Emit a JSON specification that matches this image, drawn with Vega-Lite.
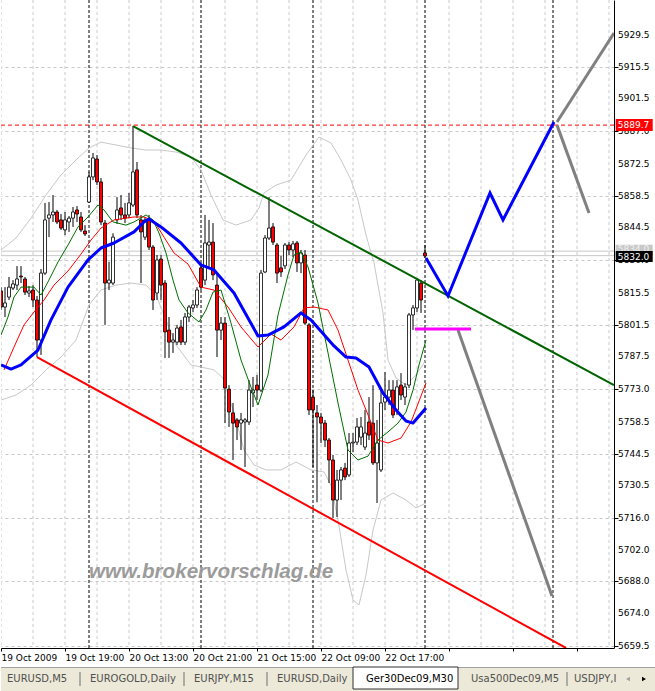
{
  "$schema": "https://vega.github.io/schema/vega-lite/v6.json",
  "padding": 0,
  "background": "#FFFFFF",
  "spacing": 4,
  "config": {
    "view": {"stroke": null},
    "font": "DejaVu Sans",
    "axis": {"labelFont": "DejaVu Sans", "labelFontSize": 9, "labelColor": "#000000", "tickColor": "#000000", "domainColor": "#000000"}
  },
  "datasets": {
    "candles": [
      {"t":0,"o":5816.4,"h":5818.1,"l":5808.0,"c":5809.3},
      {"t":1,"o":5809.3,"h":5818.1,"l":5804.9,"c":5811.1},
      {"t":2,"o":5813.7,"h":5822.6,"l":5812.4,"c":5818.1},
      {"t":3,"o":5817.7,"h":5821.2,"l":5816.8,"c":5819.5},
      {"t":4,"o":5819.0,"h":5827.4,"l":5816.8,"c":5821.7},
      {"t":5,"o":5823.0,"h":5827.4,"l":5819.9,"c":5822.6},
      {"t":6,"o":5821.7,"h":5822.6,"l":5814.6,"c":5815.9},
      {"t":7,"o":5815.5,"h":5818.6,"l":5813.7,"c":5816.4},
      {"t":8,"o":5816.8,"h":5819.0,"l":5809.3,"c":5812.4},
      {"t":9,"o":5812.4,"h":5814.2,"l":5787.2,"c":5794.7},
      {"t":10,"o":5794.7,"h":5826.1,"l":5788.1,"c":5824.3},
      {"t":11,"o":5824.3,"h":5855.3,"l":5823.5,"c":5847.8},
      {"t":12,"o":5848.6,"h":5855.7,"l":5840.2,"c":5850.0},
      {"t":13,"o":5850.0,"h":5858.8,"l":5846.9,"c":5851.3},
      {"t":14,"o":5851.3,"h":5852.2,"l":5846.0,"c":5846.9},
      {"t":15,"o":5847.8,"h":5850.4,"l":5843.4,"c":5844.2},
      {"t":16,"o":5843.4,"h":5851.3,"l":5841.1,"c":5847.8},
      {"t":17,"o":5846.9,"h":5849.5,"l":5842.5,"c":5848.6},
      {"t":18,"o":5848.6,"h":5853.5,"l":5844.7,"c":5851.3},
      {"t":19,"o":5852.2,"h":5853.9,"l":5846.9,"c":5850.4},
      {"t":20,"o":5849.1,"h":5851.3,"l":5842.5,"c":5843.4},
      {"t":21,"o":5842.9,"h":5845.5,"l":5840.7,"c":5841.6},
      {"t":22,"o":5855.7,"h":5869.0,"l":5855.3,"c":5866.8},
      {"t":23,"o":5866.8,"h":5877.4,"l":5865.4,"c":5875.2},
      {"t":24,"o":5874.7,"h":5876.5,"l":5863.2,"c":5864.6},
      {"t":25,"o":5864.6,"h":5866.3,"l":5845.5,"c":5846.9},
      {"t":26,"o":5846.4,"h":5847.8,"l":5801.4,"c":5819.9},
      {"t":27,"o":5819.9,"h":5829.3,"l":5816.8,"c":5821.2},
      {"t":28,"o":5819.9,"h":5841.9,"l":5819.0,"c":5840.2},
      {"t":29,"o":5847.8,"h":5857.9,"l":5846.0,"c":5852.2},
      {"t":30,"o":5853.1,"h":5858.8,"l":5847.8,"c":5850.0},
      {"t":31,"o":5850.0,"h":5855.3,"l":5846.4,"c":5848.6},
      {"t":32,"o":5850.0,"h":5859.7,"l":5848.6,"c":5855.3},
      {"t":33,"o":5854.4,"h":5889.3,"l":5853.5,"c":5869.0},
      {"t":34,"o":5869.9,"h":5873.4,"l":5848.6,"c":5850.0},
      {"t":35,"o":5847.8,"h":5850.0,"l":5819.9,"c":5842.5},
      {"t":36,"o":5840.2,"h":5849.1,"l":5838.9,"c":5847.8},
      {"t":37,"o":5847.8,"h":5850.0,"l":5834.5,"c":5835.8},
      {"t":38,"o":5835.8,"h":5836.7,"l":5808.0,"c":5812.4},
      {"t":39,"o":5815.5,"h":5832.3,"l":5812.4,"c":5830.1},
      {"t":40,"o":5830.5,"h":5832.3,"l":5812.4,"c":5819.0},
      {"t":41,"o":5819.9,"h":5821.2,"l":5786.8,"c":5798.3},
      {"t":42,"o":5799.1,"h":5804.9,"l":5786.8,"c":5793.8},
      {"t":43,"o":5793.8,"h":5797.8,"l":5789.0,"c":5794.7},
      {"t":44,"o":5793.8,"h":5801.4,"l":5792.5,"c":5800.0},
      {"t":45,"o":5800.5,"h":5803.6,"l":5792.5,"c":5793.8},
      {"t":46,"o":5793.8,"h":5806.7,"l":5792.5,"c":5804.9},
      {"t":47,"o":5804.9,"h":5810.2,"l":5802.7,"c":5809.3},
      {"t":48,"o":5808.9,"h":5812.4,"l":5807.1,"c":5810.2},
      {"t":49,"o":5810.2,"h":5818.1,"l":5808.9,"c":5816.8},
      {"t":50,"o":5826.6,"h":5828.8,"l":5816.8,"c":5818.1},
      {"t":51,"o":5821.2,"h":5850.0,"l":5819.0,"c":5837.6},
      {"t":52,"o":5836.7,"h":5847.8,"l":5826.6,"c":5838.0},
      {"t":53,"o":5838.0,"h":5846.4,"l":5821.2,"c":5823.5},
      {"t":54,"o":5819.0,"h":5823.5,"l":5787.2,"c":5799.1},
      {"t":55,"o":5799.1,"h":5804.9,"l":5794.7,"c":5802.2},
      {"t":56,"o":5802.2,"h":5804.9,"l":5758.0,"c":5773.5},
      {"t":57,"o":5773.0,"h":5774.8,"l":5756.3,"c":5762.9},
      {"t":58,"o":5762.5,"h":5766.9,"l":5741.7,"c":5758.0},
      {"t":59,"o":5759.4,"h":5760.2,"l":5750.5,"c":5756.3},
      {"t":60,"o":5758.0,"h":5762.5,"l":5746.1,"c":5759.4},
      {"t":61,"o":5758.5,"h":5760.2,"l":5738.6,"c":5759.4},
      {"t":62,"o":5758.5,"h":5777.0,"l":5757.2,"c":5772.6},
      {"t":63,"o":5771.3,"h":5778.4,"l":5765.1,"c":5772.6},
      {"t":64,"o":5774.8,"h":5779.3,"l":5768.2,"c":5772.6},
      {"t":65,"o":5772.6,"h":5825.7,"l":5771.7,"c":5824.3},
      {"t":66,"o":5824.8,"h":5841.1,"l":5824.3,"c":5839.8},
      {"t":67,"o":5839.8,"h":5857.9,"l":5838.9,"c":5844.2},
      {"t":68,"o":5844.7,"h":5846.4,"l":5836.7,"c":5838.0},
      {"t":69,"o":5836.7,"h":5837.6,"l":5819.9,"c":5824.3},
      {"t":70,"o":5826.6,"h":5831.9,"l":5822.6,"c":5824.8},
      {"t":71,"o":5827.5,"h":5837.6,"l":5826.1,"c":5836.7},
      {"t":72,"o":5836.7,"h":5838.0,"l":5832.3,"c":5834.5},
      {"t":73,"o":5834.5,"h":5838.5,"l":5831.4,"c":5837.2},
      {"t":74,"o":5837.6,"h":5838.5,"l":5824.8,"c":5828.8},
      {"t":75,"o":5828.8,"h":5834.5,"l":5824.3,"c":5833.2},
      {"t":76,"o":5832.3,"h":5834.5,"l":5801.4,"c":5802.2},
      {"t":77,"o":5801.4,"h":5802.2,"l":5761.6,"c":5763.8},
      {"t":78,"o":5769.5,"h":5772.6,"l":5738.6,"c":5763.8},
      {"t":79,"o":5762.5,"h":5766.0,"l":5723.0,"c":5760.7},
      {"t":80,"o":5760.7,"h":5762.5,"l":5749.2,"c":5758.0},
      {"t":81,"o":5758.0,"h":5759.4,"l":5747.4,"c":5750.5},
      {"t":82,"o":5750.5,"h":5751.4,"l":5731.5,"c":5741.7},
      {"t":83,"o":5741.7,"h":5743.9,"l":5716.0,"c":5724.0},
      {"t":84,"o":5724.0,"h":5737.3,"l":5716.5,"c":5732.8},
      {"t":85,"o":5732.8,"h":5738.6,"l":5724.0,"c":5737.3},
      {"t":86,"o":5738.1,"h":5740.4,"l":5732.8,"c":5734.2},
      {"t":87,"o":5735.1,"h":5753.6,"l":5734.2,"c":5749.2},
      {"t":88,"o":5749.2,"h":5753.6,"l":5745.2,"c":5749.6},
      {"t":89,"o":5749.6,"h":5760.2,"l":5748.3,"c":5756.3},
      {"t":90,"o":5751.8,"h":5760.7,"l":5748.3,"c":5756.3},
      {"t":91,"o":5747.4,"h":5763.8,"l":5746.1,"c":5753.6},
      {"t":92,"o":5758.5,"h":5769.5,"l":5750.5,"c":5752.7},
      {"t":93,"o":5758.0,"h":5774.8,"l":5739.5,"c":5740.4},
      {"t":94,"o":5740.4,"h":5759.4,"l":5722.7,"c":5749.2},
      {"t":95,"o":5737.3,"h":5772.6,"l":5736.4,"c":5766.9},
      {"t":96,"o":5767.3,"h":5780.6,"l":5763.8,"c":5769.5},
      {"t":97,"o":5769.5,"h":5777.0,"l":5766.0,"c":5772.6},
      {"t":98,"o":5772.6,"h":5777.0,"l":5760.2,"c":5761.6},
      {"t":99,"o":5763.8,"h":5777.0,"l":5761.6,"c":5774.0},
      {"t":100,"o":5774.8,"h":5780.1,"l":5768.2,"c":5770.4},
      {"t":101,"o":5769.5,"h":5775.7,"l":5766.0,"c":5774.0},
      {"t":102,"o":5774.8,"h":5806.7,"l":5773.5,"c":5805.8},
      {"t":103,"o":5805.8,"h":5810.2,"l":5799.1,"c":5808.9},
      {"t":104,"o":5808.9,"h":5822.1,"l":5807.1,"c":5821.2},
      {"t":105,"o":5819.9,"h":5821.2,"l":5806.7,"c":5812.4},
      {"t":106,"o":5833.2,"h":5836.7,"l":5831.0,"c":5831.9}
    ],
    "maBlue": [
      {"t":0,"p":5783.7},{"t":2.5,"p":5781.9},{"t":5,"p":5783.7},{"t":9.25,"p":5790.3},{"t":12.5,"p":5803.6},
      {"t":16.75,"p":5818.1},{"t":21.75,"p":5830.1},{"t":25,"p":5835.4},{"t":28.25,"p":5837.6},{"t":33.25,"p":5842.5},
      {"t":35.75,"p":5846.9},{"t":37,"p":5848.2},{"t":40,"p":5844.7},{"t":45,"p":5837.6},{"t":50,"p":5827.9},
      {"t":53.25,"p":5825.7},{"t":58.25,"p":5815.5},{"t":64.25,"p":5796.5},{"t":66.75,"p":5796.9},{"t":70.75,"p":5800.5},
      {"t":75,"p":5806.7},{"t":77.5,"p":5803.6},{"t":83.25,"p":5792.1},{"t":86.25,"p":5787.2},{"t":88.75,"p":5786.8},
      {"t":92,"p":5782.8},{"t":95.5,"p":5771.3},{"t":98.75,"p":5763.8},{"t":101.25,"p":5758.9},{"t":103,"p":5758.0},
      {"t":106.25,"p":5764.7}
    ],
    "maRed": [
      {"t":0.75,"p":5781.5},{"t":3.25,"p":5791.6},{"t":5.75,"p":5801.4},{"t":8.25,"p":5807.1},{"t":10.75,"p":5812.4},
      {"t":13.25,"p":5819.0},{"t":16.75,"p":5825.2},{"t":20,"p":5832.7},{"t":22.5,"p":5838.9},{"t":25,"p":5844.2},
      {"t":28.25,"p":5847.8},{"t":33.25,"p":5849.1},{"t":35.75,"p":5849.1},{"t":38.25,"p":5847.3},{"t":40.75,"p":5840.2},
      {"t":43.25,"p":5833.2},{"t":46.75,"p":5828.3},{"t":50,"p":5818.1},{"t":53.25,"p":5816.8},{"t":56.75,"p":5809.3},
      {"t":60,"p":5800.5},{"t":64.25,"p":5791.6},{"t":67.5,"p":5797.4},{"t":70,"p":5794.7},{"t":73.25,"p":5800.5},
      {"t":75.75,"p":5808.9},{"t":78.25,"p":5809.3},{"t":81.75,"p":5808.0},{"t":84.25,"p":5799.1},{"t":86.75,"p":5785.9},
      {"t":89.25,"p":5772.6},{"t":91.75,"p":5761.6},{"t":94.25,"p":5750.5},{"t":96.75,"p":5749.2},{"t":100,"p":5751.4},
      {"t":102.5,"p":5758.5},{"t":106.25,"p":5775.7}
    ],
    "maGreen": [
      {"t":0,"p":5796.9},{"t":1.75,"p":5804.9},{"t":3.25,"p":5813.7},{"t":5,"p":5818.1},{"t":8.25,"p":5818.1},
      {"t":10,"p":5814.6},{"t":11.75,"p":5820.4},{"t":14.25,"p":5829.2},{"t":16.75,"p":5836.7},{"t":19.25,"p":5844.7},
      {"t":21.75,"p":5849.1},{"t":24.25,"p":5854.4},{"t":25.75,"p":5852.2},{"t":28,"p":5846.9},{"t":31.25,"p":5845.5},
      {"t":33.25,"p":5846.9},{"t":36.25,"p":5850.0},{"t":38,"p":5847.8},{"t":39.5,"p":5842.0},{"t":41.25,"p":5833.2},
      {"t":43,"p":5821.2},{"t":44.5,"p":5812.4},{"t":46.75,"p":5806.7},{"t":49.5,"p":5802.7},{"t":51.25,"p":5808.0},
      {"t":53,"p":5815.9},{"t":55,"p":5816.8},{"t":57.5,"p":5802.2},{"t":60,"p":5785.9},{"t":62.5,"p":5773.9},
      {"t":64.25,"p":5766.0},{"t":66.75,"p":5779.3},{"t":69.25,"p":5805.8},{"t":71.75,"p":5823.5},{"t":73.25,"p":5832.3},
      {"t":75,"p":5833.6},{"t":76.75,"p":5827.0},{"t":79.25,"p":5811.1},{"t":81.75,"p":5789.0},{"t":84.25,"p":5766.9},
      {"t":86.75,"p":5746.1},{"t":89.25,"p":5741.7},{"t":91.75,"p":5743.4},{"t":94.25,"p":5750.5},{"t":96.75,"p":5754.1},
      {"t":99.25,"p":5758.0},{"t":101.25,"p":5762.9},{"t":103,"p":5772.6},{"t":104.5,"p":5783.7},{"t":106.25,"p":5794.7}
    ],
    "bands": [
      {"b":"up","t":0,"p":5834.5},{"b":"up","t":3.75,"p":5839.8},{"b":"up","t":7.5,"p":5848.6},{"b":"up","t":11.25,"p":5858.8},
      {"b":"up","t":15,"p":5867.7},{"b":"up","t":18.75,"p":5874.3},{"b":"up","t":22,"p":5879.6},{"b":"up","t":25,"p":5882.2},
      {"b":"up","t":28.75,"p":5880.9},{"b":"up","t":32.5,"p":5879.6},{"b":"up","t":36.25,"p":5878.7},{"b":"up","t":40,"p":5878.7},
      {"b":"up","t":43.75,"p":5877.8},{"b":"up","t":47.5,"p":5875.6},{"b":"up","t":50,"p":5869.9},{"b":"up","t":52.5,"p":5858.8},
      {"b":"up","t":55.5,"p":5847.8},{"b":"up","t":58.75,"p":5845.5},{"b":"up","t":62.5,"p":5847.8},{"b":"up","t":64.5,"p":5853.1},
      {"b":"up","t":65.75,"p":5859.7},{"b":"up","t":68.75,"p":5863.2},{"b":"up","t":72.5,"p":5865.4},{"b":"up","t":76.25,"p":5876.5},
      {"b":"up","t":79.5,"p":5884.4},{"b":"up","t":82.5,"p":5881.8},{"b":"up","t":85,"p":5874.3},{"b":"up","t":87.5,"p":5865.4},
      {"b":"up","t":89.25,"p":5856.6},{"b":"up","t":91.25,"p":5841.1},{"b":"up","t":93.25,"p":5828.8},{"b":"up","t":95.5,"p":5806.7},
      {"b":"up","t":96.75,"p":5785.9},{"b":"up","t":98.75,"p":5777.9},{"b":"up","t":101.25,"p":5774.8},{"b":"up","t":103.75,"p":5779.3},
      {"b":"up","t":106.25,"p":5785.9},
      {"b":"lo","t":0,"p":5768.2},{"b":"lo","t":3.75,"p":5770.4},{"b":"lo","t":7.5,"p":5774.8},{"b":"lo","t":11.25,"p":5781.5},
      {"b":"lo","t":15,"p":5787.2},{"b":"lo","t":18.75,"p":5794.7},{"b":"lo","t":22,"p":5810.2},{"b":"lo","t":25,"p":5816.8},
      {"b":"lo","t":28.75,"p":5819.0},{"b":"lo","t":32.5,"p":5819.9},{"b":"lo","t":36.25,"p":5819.0},{"b":"lo","t":38.75,"p":5814.6},
      {"b":"lo","t":41.25,"p":5803.6},{"b":"lo","t":43.75,"p":5792.5},{"b":"lo","t":47.5,"p":5783.7},{"b":"lo","t":50,"p":5782.8},
      {"b":"lo","t":53.25,"p":5781.5},{"b":"lo","t":55.5,"p":5777.9},{"b":"lo","t":58.25,"p":5762.5},{"b":"lo","t":60.75,"p":5746.1},
      {"b":"lo","t":63.25,"p":5739.5},{"b":"lo","t":66.25,"p":5737.3},{"b":"lo","t":70,"p":5737.3},{"b":"lo","t":73.75,"p":5740.8},
      {"b":"lo","t":77.5,"p":5737.3},{"b":"lo","t":80.75,"p":5736.4},{"b":"lo","t":82.5,"p":5730.6},{"b":"lo","t":84.25,"p":5715.2},
      {"b":"lo","t":86.25,"p":5693.1},{"b":"lo","t":88,"p":5679.8},{"b":"lo","t":89.5,"p":5677.6},{"b":"lo","t":91.25,"p":5690.9},
      {"b":"lo","t":93,"p":5710.7},{"b":"lo","t":95,"p":5724.0},{"b":"lo","t":98,"p":5727.1},{"b":"lo","t":101.25,"p":5724.0},
      {"b":"lo","t":103.75,"p":5720.5},{"b":"lo","t":106.25,"p":5722.7}
    ],
    "greenTrend": [{"t":33,"p":5889.3},{"t":153.25,"p":5774.8}],
    "redTrend": [{"t":9,"p":5787.2},{"t":141.25,"p":5658.6}],
    "blueProj": [{"t":106.25,"p":5831.0},{"t":111.75,"p":5814.2},{"t":122.25,"p":5859.7},{"t":125.5,"p":5847.8},{"t":138.25,"p":5891.1}],
    "grayProj": [
      {"g":1,"t":139,"p":5891.1},{"g":1,"t":153.25,"p":5930.4},
      {"g":2,"t":139,"p":5889.7},{"g":2,"t":147,"p":5850.9},
      {"g":3,"t":114.25,"p":5799.1},{"g":3,"t":137.75,"p":5681.6}
    ],
    "magenta": [{"t":103.5,"p":5799.6},{"t":117.5,"p":5799.6}],
    "vgrid": [{"t":0},{"t":8},{"t":16},{"t":24},{"t":32},{"t":40},{"t":48},{"t":56},{"t":64},{"t":72},{"t":80},{"t":88},{"t":96},{"t":104},{"t":112},{"t":120},{"t":128},{"t":136},{"t":144},{"t":152}],
    "vlines": [{"t":22},{"t":50},{"t":78},{"t":106},{"t":138}],
    "ylabels": [
      {"v":5929.5,"s":"5929.5"},{"v":5915.5,"s":"5915.5"},{"v":5901.5,"s":"5901.5"},{"v":5887.0,"s":"5887.0"},
      {"v":5872.5,"s":"5872.5"},{"v":5858.5,"s":"5858.5"},{"v":5844.5,"s":"5844.5"},{"v":5830.0,"s":"5830.0"},
      {"v":5815.5,"s":"5815.5"},{"v":5801.5,"s":"5801.5"},{"v":5787.5,"s":"5787.5"},{"v":5773.0,"s":"5773.0"},
      {"v":5758.5,"s":"5758.5"},{"v":5744.5,"s":"5744.5"},{"v":5730.5,"s":"5730.5"},{"v":5716.0,"s":"5716.0"},
      {"v":5702.0,"s":"5702.0"},{"v":5688.0,"s":"5688.0"},{"v":5674.0,"s":"5674.0"},{"v":5659.5,"s":"5659.5"}
    ]
  },
  "vconcat": [
    {
      "width": 613,
      "height": 648,
      "layer": [
        {
          "data": {"name": "vgrid"},
          "mark": {"type": "rule", "color": "#C8C8C8", "strokeDash": [3, 3], "strokeWidth": 1, "clip": true},
          "encoding": {
            "x": {
              "field": "t", "type": "quantitative",
              "scale": {"domain": [0, 153.25], "nice": false, "zero": false, "padding": 0},
              "axis": {
                "orient": "bottom", "title": null, "grid": false,
                "values": [0,8,16,24,32,40,48,56,64,72,80,88,96,104,112,120,128,136,144,152],
                "labelExpr": "datum.value == 0 ? '19 Oct 2009' : datum.value == 16 ? '19 Oct 19:00' : datum.value == 32 ? '20 Oct 13:00' : datum.value == 48 ? '20 Oct 21:00' : datum.value == 64 ? '21 Oct 15:00' : datum.value == 80 ? '22 Oct 09:00' : datum.value == 96 ? '22 Oct 17:00' : ''",
                "tickSize": 3, "labelAlign": "left", "labelBaseline": "top", "labelPadding": 2,
                "labelDx": 0, "labelFlush": false, "labelOverlap": false, "domainColor": "#000000"
              }
            }
          }
        },
        {
          "data": {"values": [{"p": 5834.0}, {"p": 5832.0}]},
          "mark": {"type": "rule", "color": "#C8C8C8", "strokeWidth": 1, "clip": true},
          "encoding": {
            "y": {
              "field": "p", "type": "quantitative",
              "scale": {"domain": [5658.6, 5945.0], "nice": false, "zero": false, "padding": 0},
              "axis": {
                "orient": "right", "title": null, "labels": false,
                "values": [5929.5,5915.5,5901.5,5887.0,5872.5,5858.5,5844.5,5830.0,5815.5,5801.5,5787.5,5773.0,5758.5,5744.5,5730.5,5716.0,5702.0,5688.0,5674.0,5659.5],
                "grid": true, "gridColor": "#C8C8C8", "gridDash": [3, 3],
                "tickSize": 4, "domainColor": "#000000"
              }
            }
          }
        },
        {
          "data": {"name": "vlines"},
          "mark": {"type": "rule", "color": "#000000", "strokeDash": [3, 2], "strokeWidth": 1, "clip": true},
          "encoding": {"x": {"field": "t", "type": "quantitative"}}
        },
        {
          "data": {"values": [{"p": 5889.7}]},
          "mark": {"type": "rule", "color": "#FF0000", "strokeDash": [4, 3], "strokeWidth": 1, "clip": true},
          "encoding": {"y": {"field": "p", "type": "quantitative"}}
        },
        {
          "data": {"name": "bands"},
          "mark": {"type": "line", "color": "#C8C8C8", "strokeWidth": 1, "clip": true},
          "encoding": {
            "x": {"field": "t", "type": "quantitative"},
            "y": {"field": "p", "type": "quantitative"},
            "detail": {"field": "b"}
          }
        },
        {
          "data": {"name": "candles"},
          "mark": {"type": "rule", "color": "#000000", "strokeWidth": 1, "clip": true},
          "encoding": {
            "x": {"field": "t", "type": "quantitative"},
            "y": {"field": "l", "type": "quantitative"},
            "y2": {"field": "h"}
          }
        },
        {
          "data": {"name": "candles"},
          "mark": {"type": "bar", "size": 3, "stroke": "#000000", "strokeWidth": 0.8, "opacity": 1, "clip": true},
          "encoding": {
            "x": {"field": "t", "type": "quantitative"},
            "y": {"field": "o", "type": "quantitative"},
            "y2": {"field": "c"},
            "fill": {"condition": {"test": "datum.c < datum.o", "value": "#FF0000"}, "value": "#FFFFFF"}
          }
        },
        {
          "data": {"name": "maRed"},
          "mark": {"type": "line", "color": "#FF0000", "strokeWidth": 1, "clip": true},
          "encoding": {
            "x": {"field": "t", "type": "quantitative"},
            "y": {"field": "p", "type": "quantitative"}
          }
        },
        {
          "data": {"name": "maGreen"},
          "mark": {"type": "line", "color": "#007000", "strokeWidth": 1, "clip": true},
          "encoding": {
            "x": {"field": "t", "type": "quantitative"},
            "y": {"field": "p", "type": "quantitative"}
          }
        },
        {
          "data": {"name": "maBlue"},
          "mark": {"type": "line", "color": "#0000FF", "strokeWidth": 3, "clip": true, "strokeJoin": "round"},
          "encoding": {
            "x": {"field": "t", "type": "quantitative"},
            "y": {"field": "p", "type": "quantitative"}
          }
        },
        {
          "data": {"name": "greenTrend"},
          "mark": {"type": "line", "color": "#006400", "strokeWidth": 2, "clip": true},
          "encoding": {
            "x": {"field": "t", "type": "quantitative"},
            "y": {"field": "p", "type": "quantitative"}
          }
        },
        {
          "data": {"name": "redTrend"},
          "mark": {"type": "line", "color": "#FF0000", "strokeWidth": 2, "clip": true},
          "encoding": {
            "x": {"field": "t", "type": "quantitative"},
            "y": {"field": "p", "type": "quantitative"}
          }
        },
        {
          "data": {"name": "grayProj"},
          "mark": {"type": "line", "color": "#808080", "strokeWidth": 3, "clip": true},
          "encoding": {
            "x": {"field": "t", "type": "quantitative"},
            "y": {"field": "p", "type": "quantitative"},
            "detail": {"field": "g"}
          }
        },
        {
          "data": {"name": "blueProj"},
          "mark": {"type": "line", "color": "#0000FF", "strokeWidth": 3, "clip": true},
          "encoding": {
            "x": {"field": "t", "type": "quantitative"},
            "y": {"field": "p", "type": "quantitative"}
          }
        },
        {
          "data": {"name": "magenta"},
          "mark": {"type": "line", "color": "#FF00FF", "strokeWidth": 3, "clip": true},
          "encoding": {
            "x": {"field": "t", "type": "quantitative"},
            "y": {"field": "p", "type": "quantitative"}
          }
        },
        {
          "data": {"values": [{"s": "www.brokervorschlag.de", "t": 22, "p": 5692.2}]},
          "mark": {"type": "text", "align": "left", "baseline": "middle", "font": "Liberation Sans", "fontSize": 20.6, "fontWeight": "bold", "fontStyle": "italic", "color": "#9B9B9B", "clip": true},
          "encoding": {
            "x": {"field": "t", "type": "quantitative"},
            "y": {"field": "p", "type": "quantitative"},
            "text": {"field": "s"}
          }
        },
        {
          "data": {"name": "ylabels"},
          "mark": {"type": "text", "align": "left", "baseline": "middle", "fontSize": 9, "color": "#000000", "clip": false, "dx": 2},
          "encoding": {
            "x": {"datum": 153.75, "type": "quantitative"},
            "y": {"field": "v", "type": "quantitative"},
            "text": {"field": "s"}
          }
        },
        {
          "data": {"values": [{"p": 5889.7, "q": 158.3}]},
          "mark": {"type": "tick", "orient": "horizontal", "size": 37, "thickness": 12, "color": "#FF0000", "opacity": 1, "clip": false},
          "encoding": {
            "x": {"field": "q", "type": "quantitative"},
            "y": {"field": "p", "type": "quantitative"}
          }
        },
        {
          "data": {"values": [{"p": 5834.4, "q": 158.3}]},
          "mark": {"type": "tick", "orient": "horizontal", "size": 37, "thickness": 11, "color": "#C8C8C8", "opacity": 1, "clip": false},
          "encoding": {
            "x": {"field": "q", "type": "quantitative"},
            "y": {"field": "p", "type": "quantitative"}
          }
        },
        {
          "data": {"values": [{"p": 5835.0, "k": "5834.0", "q": 154.2}]},
          "mark": {"type": "text", "align": "left", "baseline": "middle", "fontSize": 9, "color": "#EEEEEE", "clip": false},
          "encoding": {
            "x": {"field": "q", "type": "quantitative"},
            "y": {"field": "p", "type": "quantitative"},
            "text": {"field": "k"}
          }
        },
        {
          "data": {"values": [{"p": 5831.6, "q": 158.3}]},
          "mark": {"type": "tick", "orient": "horizontal", "size": 37, "thickness": 11, "color": "#000000", "opacity": 1, "clip": false},
          "encoding": {
            "x": {"field": "q", "type": "quantitative"},
            "y": {"field": "p", "type": "quantitative"}
          }
        },
        {
          "data": {"values": [{"p": 5889.7, "k": "5889.7", "q": 154.2}, {"p": 5831.6, "k": "5832.0", "q": 154.2}]},
          "mark": {"type": "text", "align": "left", "baseline": "middle", "fontSize": 9, "color": "#FFFFFF", "clip": false},
          "encoding": {
            "x": {"field": "q", "type": "quantitative"},
            "y": {"field": "p", "type": "quantitative"},
            "text": {"field": "k"}
          }
        }
      ]
    },
    {
      "width": 655,
      "height": 24,
      "view": {"fill": "#ECE9D8", "stroke": null},
      "layer": [
        {
          "data": {"values": [{"y": 0.5}]},
          "mark": {"type": "rule", "color": "#A0A0A0", "strokeWidth": 1, "clip": true},
          "encoding": {
            "y": {"field": "y", "type": "quantitative", "scale": {"domain": [0, 24], "reverse": true, "nice": false, "zero": false, "padding": 0}, "axis": null}
          }
        },
        {
          "data": {"values": [{"a": 352, "b": 457, "y0": 0, "y1": 22}]},
          "mark": {"type": "rect", "fill": "#FFFFFF", "stroke": "#303030", "strokeWidth": 1},
          "encoding": {
            "x": {"field": "a", "type": "quantitative", "scale": {"domain": [0, 655], "nice": false, "zero": false, "padding": 0}, "axis": null},
            "x2": {"field": "b"},
            "y": {"field": "y0", "type": "quantitative", "axis": null},
            "y2": {"field": "y1"}
          }
        },
        {
          "data": {"values": [{"x": 79, "y0": 5, "y1": 19}, {"x": 183, "y0": 5, "y1": 19}, {"x": 266, "y0": 5, "y1": 19}, {"x": 566, "y0": 5, "y1": 19}]},
          "mark": {"type": "rule", "color": "#707070", "strokeWidth": 1},
          "encoding": {
            "x": {"field": "x", "type": "quantitative", "axis": null},
            "y": {"field": "y0", "type": "quantitative", "axis": null},
            "y2": {"field": "y1"}
          }
        },
        {
          "data": {"values": [
            {"x": 6, "y": 12, "name": "EURUSD,M5", "on": false},
            {"x": 89, "y": 12, "name": "EUROGOLD,Daily", "on": false},
            {"x": 193, "y": 12, "name": "EURJPY,M15", "on": false},
            {"x": 276, "y": 12, "name": "EURUSD,Daily", "on": false},
            {"x": 365, "y": 12, "name": "Ger30Dec09,M30", "on": true},
            {"x": 470, "y": 12, "name": "Usa500Dec09,M5", "on": false},
            {"x": 573, "y": 12, "name": "USDJPY,I", "on": false}
          ]},
          "mark": {"type": "text", "align": "left", "baseline": "middle", "fontSize": 10, "font": "DejaVu Sans"},
          "encoding": {
            "x": {"field": "x", "type": "quantitative", "axis": null},
            "y": {"field": "y", "type": "quantitative", "axis": null},
            "text": {"field": "name"},
            "color": {"condition": {"test": "datum.on", "value": "#000000"}, "value": "#505050"}
          }
        },
        {
          "data": {"values": [{"x": 627, "y": 12}]},
          "mark": {"type": "point", "shape": "triangle-left", "size": 22, "filled": true, "color": "#A0A0A0", "opacity": 1},
          "encoding": {
            "x": {"field": "x", "type": "quantitative", "axis": null},
            "y": {"field": "y", "type": "quantitative", "axis": null}
          }
        },
        {
          "data": {"values": [{"x": 643, "y": 12}]},
          "mark": {"type": "point", "shape": "triangle-right", "size": 22, "filled": true, "color": "#000000", "opacity": 1},
          "encoding": {
            "x": {"field": "x", "type": "quantitative", "axis": null},
            "y": {"field": "y", "type": "quantitative", "axis": null}
          }
        }
      ]
    }
  ]
}
